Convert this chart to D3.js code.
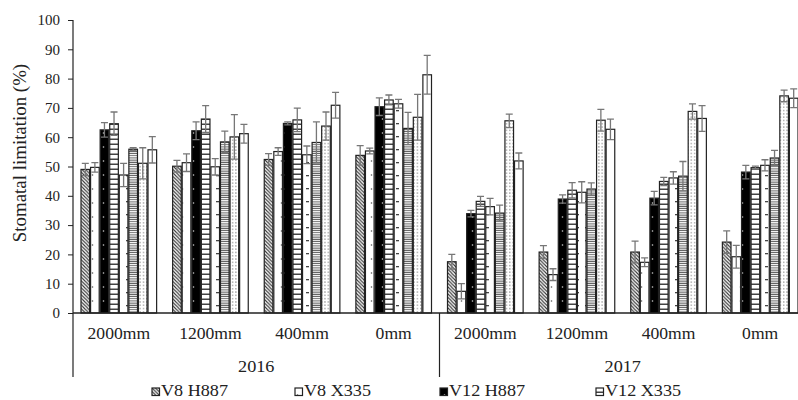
<!DOCTYPE html>
<html>
<head>
<meta charset="utf-8">
<script src="https://cdn.jsdelivr.net/npm/d3@7"></script>
<style>
  body { margin: 0; background: #fff; }
  text { font-family: "Liberation Serif", "Times New Roman", serif; fill: #222; }
</style>
</head>
<body>
<svg width="798" height="400"></svg>
<script>
// categories
var years = ["2016", "2017"];
var treatments = ["2000mm", "1200mm", "400mm", "0mm"];
var yTicks = [0, 10, 20, 30, 40, 50, 60, 70, 80, 90, 100];

// 8 bars per group; only the first four are named in the legend
var seriesKeys = ["s1", "s2", "s3", "s4", "s5", "s6", "s7", "s8"];
var legendNames = ["V8 H887", "V8 X335", "V12 H887", "V12 X335"];

// values per series, groups in order 2016: 2000,1200,400,0 / 2017: 2000,1200,400,0
var s1 = [49.0, 50.1, 52.4, 53.8, 17.5, 20.8, 20.8, 24.2];
var s2 = [49.7, 51.3, 55.1, 55.3, 7.4, 13.1, 17.3, 19.2];
var s3 = [62.5, 62.2, 64.7, 70.4, 33.9, 38.9, 39.2, 48.1];
var s4 = [64.6, 66.2, 65.9, 72.7, 38.1, 41.9, 44.9, 49.6];
var s5 = [47.1, 49.9, 54.0, 71.4, 36.3, 41.2, 46.1, 50.4];
var s6 = [55.9, 58.4, 58.2, 63.0, 34.1, 42.3, 46.7, 52.9];
var s7 = [51.1, 60.1, 63.8, 66.8, 65.6, 65.8, 68.8, 74.1];
var s8 = [55.7, 61.2, 70.9, 81.3, 51.9, 62.7, 66.4, 73.3];

// error bars (+/-)
var e1 = [2.1, 2.0, 2.0, 3.3, 2.5, 2.2, 3.7, 3.8];
var e2 = [1.6, 3.0, 1.3, 1.0, 2.6, 2.0, 1.5, 3.9];
var e3 = [2.5, 3.0, 0.5, 3.0, 1.1, 1.4, 2.3, 2.3];
var e4 = [4.0, 4.6, 4.0, 1.7, 1.7, 2.6, 1.4, 0.5];
var e5 = [4.0, 2.8, 3.0, 1.5, 2.8, 3.6, 2.1, 1.9];
var e6 = [0.5, 3.7, 7.0, 5.5, 2.7, 2.1, 5.0, 2.6];
var e7 = [5.3, 7.6, 4.8, 7.8, 2.3, 3.7, 2.6, 2.0];
var e8 = [4.5, 3.2, 4.4, 6.6, 2.7, 3.5, 4.4, 3.2];

var values = [s1, s2, s3, s4, s5, s6, s7, s8];
var errors = [e1, e2, e3, e4, e5, e6, e7, e8];

var svg = d3.select("svg");
var plotLeft = 73, plotTop = 20, plotBottom = 313, plotRight = 806;

// groups: year x treatment
var groups = [];
years.forEach(function(yr) { treatments.forEach(function(t) { groups.push(yr + "|" + t); }); });

var rows = [];
groups.forEach(function(g, gi) {
    seriesKeys.forEach(function(k, si) {
        rows.push({group: g, key: k, si: si, value: values[si][gi], err: errors[si][gi]});
    });
});

var x0 = d3.scaleBand().domain(groups).range([plotLeft, plotRight]);
var x1 = d3.scaleBand().domain(seriesKeys).range([8, x0.bandwidth() - 8]).paddingInner(0.1);
var y = d3.scaleLinear().domain([0, 100]).range([plotBottom, plotTop]);
var yearScale = d3.scaleBand().domain(years).range([plotLeft, plotRight]);

// patterns
var defs = svg.append("defs");
function pat(id, w, h) {
    return defs.append("pattern").attr("id", id).attr("patternUnits", "userSpaceOnUse")
        .attr("width", w).attr("height", h);
}
var p;
p = pat("p1", 3.5, 3.5);
p.append("rect").attr("width", 3.5).attr("height", 3.5).attr("fill", "#fff");
p.append("path").attr("d", "M-1,-1L4.5,4.5M-1,2.5L1,4.5M2.5,-1L4.5,1").attr("stroke", "#333").attr("stroke-width", 1.1);

p = pat("p2", 9, 14);
p.append("rect").attr("width", 9).attr("height", 14).attr("fill", "#fff");
p.append("circle").attr("cx", 2.5).attr("cy", 7).attr("r", 0.8).attr("fill", "#555");

p = pat("p3", 9, 14);
p.append("rect").attr("width", 9).attr("height", 14).attr("fill", "#000");
p.append("circle").attr("cx", 4.5).attr("cy", 7).attr("r", 0.8).attr("fill", "#ccc");

p = pat("p4", 9, 5);
p.append("rect").attr("width", 9).attr("height", 5).attr("fill", "#fff");
p.append("rect").attr("y", 3.5).attr("width", 9).attr("height", 1.5).attr("fill", "#444");

p = pat("p5", 9, 13);
p.append("rect").attr("width", 9).attr("height", 13).attr("fill", "#fff");
p.append("rect").attr("x", 0).attr("y", 6).attr("width", 3).attr("height", 1.3).attr("fill", "#444");

p = pat("p6", 4, 2.2);
p.append("rect").attr("width", 4).attr("height", 2.2).attr("fill", "#fff");
p.append("rect").attr("y", 1.2).attr("width", 4).attr("height", 1).attr("fill", "#555");

p = pat("p7", 3.3, 3.3);
p.append("rect").attr("width", 3.3).attr("height", 3.3).attr("fill", "#fff");
p.append("circle").attr("cx", 1.6).attr("cy", 1.6).attr("r", 0.6).attr("fill", "#555");

p = pat("p8", 4, 4);
p.append("rect").attr("width", 4).attr("height", 4).attr("fill", "#fff");

// bars
svg.append("g").selectAll("rect")
    .data(rows)
    .enter().append("rect")
    .attr("x", function(d) { return x0(d.group) + x1(d.key); })
    .attr("y", function(d) { return y(d.value); })
    .attr("width", x1.bandwidth())
    .attr("height", function(d) { return plotBottom - y(d.value); })
    .attr("fill", function(d) { return "url(#p" + (d.si + 1) + ")"; })
    .attr("stroke", "#222")
    .attr("stroke-width", 1.2);

// error bars
svg.append("g").attr("stroke", "#777").attr("stroke-width", 1.3).attr("fill", "none")
    .selectAll("path")
    .data(rows)
    .enter().append("path")
    .attr("d", function(d) {
        var cx = x0(d.group) + x1(d.key) + x1.bandwidth() / 2;
        var y1 = y(d.value + d.err), y2 = y(d.value - d.err);
        return "M" + (cx - 3.5) + "," + y1 + "H" + (cx + 3.5) +
               "M" + cx + "," + y1 + "V" + y2 +
               "M" + (cx - 3.5) + "," + y2 + "H" + (cx + 3.5);
    });

// y axis
var yAxis = svg.append("g")
    .attr("transform", "translate(" + plotLeft + ",0)")
    .call(d3.axisLeft(y).tickValues(yTicks).tickSize(5).tickPadding(8));
yAxis.select(".domain").remove();
yAxis.selectAll("line").attr("stroke", "#222");
yAxis.selectAll("text").attr("font-size", 15).attr("font-family", "Liberation Serif, serif").attr("fill", "#222");

svg.append("line").attr("x1", plotLeft).attr("x2", plotLeft).attr("y1", plotTop).attr("y2", 377)
    .attr("stroke", "#222").attr("stroke-width", 1.2);
svg.append("line").attr("x1", plotLeft).attr("x2", plotRight).attr("y1", plotBottom).attr("y2", plotBottom)
    .attr("stroke", "#222").attr("stroke-width", 1.3);
svg.append("line").attr("x1", yearScale("2017")).attr("x2", yearScale("2017")).attr("y1", plotBottom).attr("y2", 377)
    .attr("stroke", "#222").attr("stroke-width", 1.2);

// category labels (the source font is drawn a bit wide)
svg.append("g").selectAll("text")
    .data(groups)
    .enter().append("text")
    .attr("transform", function(g) { return "translate(" + (x0(g) + x0.bandwidth() / 2) + ",339) scale(1.1,1)"; })
    .attr("text-anchor", "middle")
    .attr("font-size", 16)
    .text(function(g) { return g.split("|")[1]; });

svg.append("g").selectAll("text")
    .data(years)
    .enter().append("text")
    .attr("transform", function(yr) { return "translate(" + (yearScale(yr) + yearScale.bandwidth() / 2) + ",372) scale(1.14,1)"; })
    .attr("text-anchor", "middle")
    .attr("font-size", 16)
    .text(function(yr) { return yr; });

// y label
svg.append("text")
    .attr("transform", "translate(26,153) rotate(-90) scale(1.05,1)")
    .attr("text-anchor", "middle")
    .attr("font-size", 18)
    .text("Stomatal limitation (%)");

// legend
var legendX = [152, 295, 440, 596];
var lg = svg.append("g").selectAll("g")
    .data(legendNames)
    .enter().append("g")
    .attr("transform", function(d, i) { return "translate(" + legendX[i] + ",388)"; });
lg.append("rect")
    .attr("width", 7.5).attr("height", 7.5)
    .attr("fill", function(d, i) { return "url(#p" + (i + 1) + ")"; })
    .attr("stroke", "#222").attr("stroke-width", 1.2);
lg.append("text")
    .attr("transform", "translate(9,8.2) scale(1.1,1)")
    .attr("font-size", 16.5)
    .text(function(d) { return d; });
</script>
</body>
</html>
